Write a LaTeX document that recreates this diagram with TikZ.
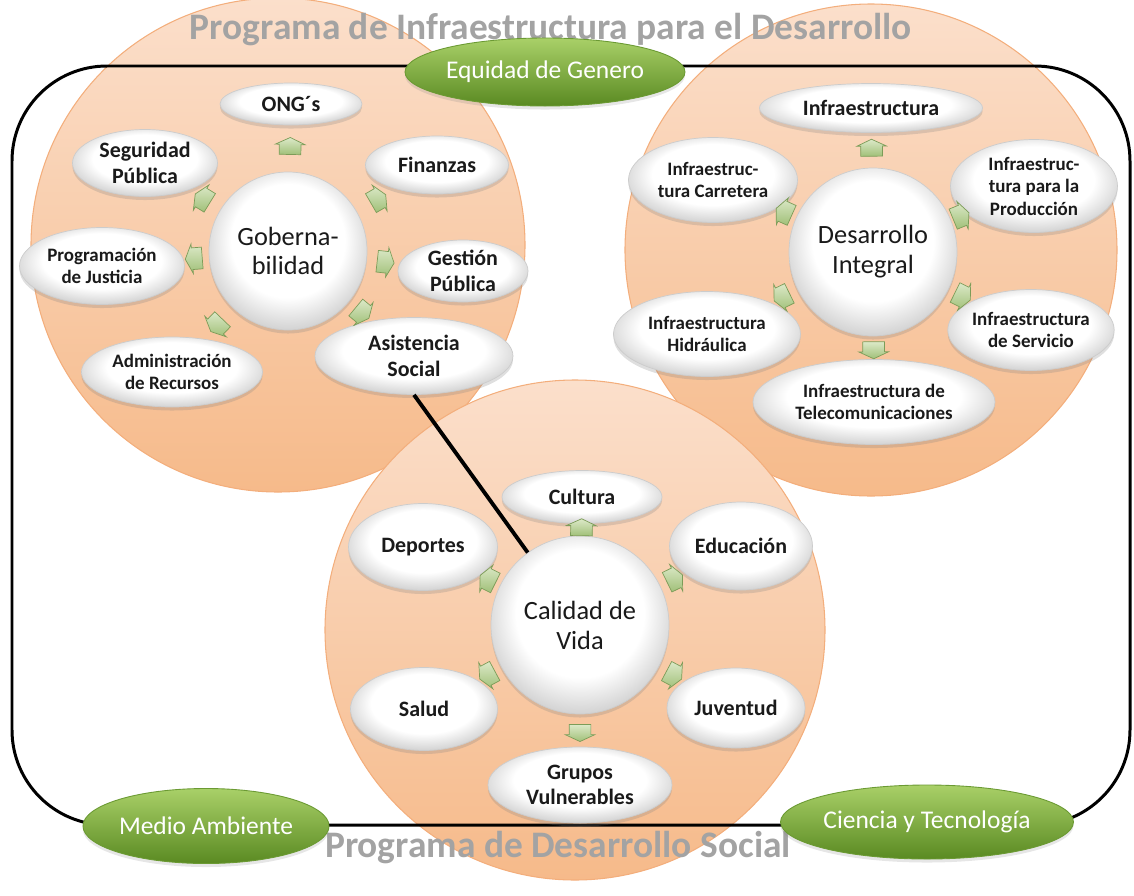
\documentclass[tikz,border=0pt]{standalone}
\usepackage{fontspec}
\setmainfont{Carlito}
\usetikzlibrary{shapes.geometric,shapes.arrows,shadows}
\definecolor{ink}{HTML}{1A1A1A}
\definecolor{headgray}{HTML}{A3A3A3}
\definecolor{zonetop}{HTML}{FBDFCB}
\definecolor{zonebot}{HTML}{F6BA8A}
\definecolor{zoneline}{HTML}{F3AE7C}
\definecolor{satrim}{HTML}{CFCFCF}
\definecolor{satline}{HTML}{CCCCCC}
\definecolor{themetop}{HTML}{A9D068}
\definecolor{themebot}{HTML}{5A8A22}
\definecolor{themeline}{HTML}{6B9A33}
\definecolor{arrowtop}{HTML}{DCE9C8}
\definecolor{arrowbot}{HTML}{A0C078}
\definecolor{arrowline}{HTML}{7C9C58}
\pgfdeclareradialshading{glossy}{\pgfpoint{0bp}{5bp}}{color(0bp)=(white); color(18bp)=(white); color(28bp)=(satrim); color(50bp)=(satrim)}
\newcommand{\satf}{\fontsize{12.5}{14.5}\selectfont\bfseries}
\newcommand{\smallf}{\fontsize{10.8}{12.8}\selectfont\bfseries}
\newcommand{\hubf}{\fontsize{15}{17}\selectfont}
\newcommand{\themef}{\fontsize{14.5}{16}\selectfont}
\newcommand{\headf}{\fontsize{21.3}{24}\selectfont\bfseries}
\tikzset{
 zone/.style={circle,draw=zoneline,line width=.6pt,top color=zonetop,bottom color=zonebot,inner sep=0pt},
 sat/.style={ellipse,draw=satline,line width=.4pt,shading=glossy,inner sep=0pt,font=\satf,text=ink,align=center,
  drop shadow={opacity=.25,shadow xshift=0pt,shadow yshift=-2pt}},
 satsm/.style={sat,font=\smallf},
 hub/.style={sat,circle,font=\hubf},
 theme/.style={ellipse,draw=themeline,line width=.5pt,top color=themetop,bottom color=themebot,inner sep=0pt,font=\themef,text=white,
  drop shadow={opacity=.2,shadow xshift=0pt,shadow yshift=-2pt}},
 garrow/.style={single arrow,draw=arrowline,line width=.4pt,top color=arrowtop,bottom color=arrowbot,minimum height=3.4mm,
  inner xsep=0pt,inner ysep=2.1mm,single arrow head extend=.8mm,single arrow tip angle=130,sloped,allow upside down},
 frame/.style={draw=black,line width=1.7pt,rounded corners=19mm},
 heading/.style={font=\headf,text=headgray,inner sep=0pt},
 link/.style={draw=black,line width=2.2pt},
}

\begin{document}
\begin{tikzpicture}

\useasboundingbox (0,0) rectangle (22.68,-17.92);
% three programme areas
\node[zone,minimum size=98.8mm] (gobzone) at (5.56,-4.9) {};
\node[zone,minimum size=98.4mm] (deszone) at (17.42,-5.0) {};
\node[zone,minimum size=100mm] (calzone) at (11.5,-12.6) {};
\draw[frame] (0.24,-1.32) rectangle (22.6,-16.5);
\node[heading] (topttl) at (11.02,-0.6) {Programa de Infraestructura para el Desarrollo};
\node[heading] (botttl) at (11.16,-16.96) {Programa de Desarrollo Social};
\node[theme,minimum width=47mm,minimum height=13.6mm] (eq) at (10.9,-1.44) {Equidad de Genero};
\node[theme,minimum width=41.6mm,minimum height=15mm] (med) at (4.12,-16.52) {Medio Ambiente};
\node[theme,minimum width=49mm,minimum height=14.8mm] (cie) at (18.54,-16.44) {Ciencia y Tecnología};

% Gobernabilidad
\node[hub,minimum size=31.6mm] (gob) at (5.76,-5.02) {Goberna-\\bilidad};
\node[sat,minimum width=28.4mm,minimum height=8.4mm] (ong) at (5.82,-2.08) {ONG´s};
\node[sat,minimum width=29mm,minimum height=13.4mm] (seg) at (2.9,-3.26) {Seguridad\\Pública};
\node[sat,minimum width=28.6mm,minimum height=11.6mm] (fin) at (8.74,-3.3) {Finanzas};
\node[satsm,minimum width=33mm,minimum height=15.4mm] (prog) at (2.04,-5.32) {Programación\\de Justicia};
\node[sat,minimum width=26mm,minimum height=12.4mm] (gest) at (9.26,-5.42) {Gestión\\Pública};
\node[satsm,minimum width=36.2mm,minimum height=14mm] (adm) at (3.44,-7.44) {Administración\\de Recursos};
\node[sat,minimum width=39.6mm,minimum height=15.4mm] (asis) at (8.28,-7.12) {Asistencia\\Social};
\foreach \s in {ong,seg,fin,prog,gest,adm,asis}
 \path (gob) -- (\s) node[garrow,midway] {};

% Desarrollo Integral
\node[hub,minimum size=33.6mm] (des) at (17.46,-5.04) {Desarrollo\\Integral};
\node[sat,minimum width=44.6mm,minimum height=9.8mm] (inf) at (17.42,-2.16) {Infraestructura};
\node[satsm,minimum width=33.8mm,minimum height=17mm] (car) at (14.26,-3.6) {Infraestruc-\\tura Carretera};
\node[satsm,minimum width=33.4mm,minimum height=18.6mm] (pro) at (20.68,-3.72) {Infraestruc-\\tura para la\\Producción};
\node[satsm,minimum width=37.4mm,minimum height=17mm] (hid) at (14.14,-6.68) {Infraestructura\\Hidráulica};
\node[satsm,minimum width=33mm,minimum height=16.2mm] (ser) at (20.62,-6.6) {Infraestructura\\de Servicio};
\node[satsm,minimum width=48.4mm,minimum height=17mm] (tel) at (17.48,-8.04) {Infraestructura de\\Telecomunicaciones};
\foreach \s in {inf,car,pro,hid,ser,tel}
 \path (des) -- (\s) node[garrow,midway] {};

% Calidad de Vida
\node[hub,minimum size=35.6mm] (cal) at (11.6,-12.5) {Calidad de\\Vida};
\node[sat,minimum width=32mm,minimum height=10.6mm] (cul) at (11.64,-9.94) {Cultura};
\node[sat,minimum width=29.8mm,minimum height=17.4mm] (dep) at (8.46,-10.94) {Deportes};
\node[sat,minimum width=28.6mm,minimum height=17.6mm] (edu) at (14.82,-10.92) {Educación};
\node[sat,minimum width=29.4mm,minimum height=16.6mm] (sal) at (8.48,-14.18) {Salud};
\node[sat,minimum width=27.6mm,minimum height=16mm] (juv) at (14.72,-14.16) {Juventud};
\node[sat,minimum width=36.8mm,minimum height=15.2mm] (gru) at (11.6,-15.7) {Grupos\\Vulnerables};
\foreach \s in {cul,dep,edu,sal,juv,gru}
 \path (cal) -- (\s) node[garrow,midway] {};

\draw[link] (asis.south) -- (cal);

\end{tikzpicture}
\end{document}
